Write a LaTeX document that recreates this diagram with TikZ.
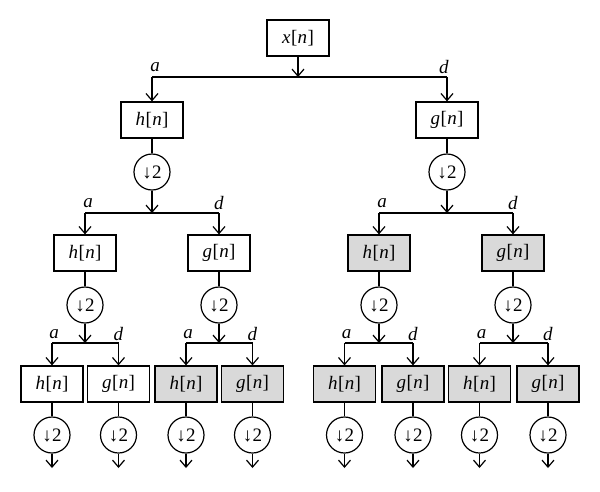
\documentclass[tikz,border=0pt]{standalone}
\usepackage{fontspec}
\setmainfont{Liberation Serif}
\usetikzlibrary{arrows.meta}
\newcommand{\sig}[1]{\textit{#1}\kern0.5pt[\kern0.3pt\textit{n}\kern0.3pt]}
\newcommand{\dtwo}{↓\kern0.5pt2}
\begin{document}
\begin{tikzpicture}[x=1pt,y=-1pt,
  every node/.style={font=\fontsize{19}{21}\selectfont},
  conn/.style={line width=1.2pt},
  arr/.style={conn,-{Straight Barb[length=7pt,width=12pt,line width=1.2pt]}},
  fbox/.style={draw,line width=1.2pt,minimum width=62pt,minimum height=36pt,inner sep=0pt},
  gbox/.style={fbox,fill=gray!30},
  dcirc/.style={draw,circle,line width=1.2pt,minimum size=36pt,inner sep=0pt},
  lab/.style={inner sep=0pt}]
\useasboundingbox (0,0) rectangle (600,491);
% top
\node[fbox] (x) at (298,38) {\sig{x}};
\coordinate (j0) at (298,77);
\node[fbox] (h1) at (152,120) {\sig{h}};
\node[fbox] (g1) at (447,120) {\sig{g}};
\node[dcirc] (ch1) at (152,172) {\dtwo};
\node[dcirc] (cg1) at (447,172) {\dtwo};
% level 2
\coordinate (j1) at (152,213);
\coordinate (j2) at (447,213);
\node[fbox] (h2a) at (85,253) {\sig{h}};
\node[fbox] (g2a) at (219,253) {\sig{g}};
\node[gbox] (h2b) at (379,253) {\sig{h}};
\node[gbox] (g2b) at (513,253) {\sig{g}};
\node[dcirc] (ch2a) at (85,305) {\dtwo};
\node[dcirc] (cg2a) at (219,305) {\dtwo};
\node[dcirc] (ch2b) at (379,305) {\dtwo};
\node[dcirc] (cg2b) at (513,305) {\dtwo};
% level 3
\coordinate (k1) at (85,343);
\coordinate (k2) at (219,343);
\coordinate (k3) at (379,343);
\coordinate (k4) at (513,343);
\node[fbox] (h3a) at (52,384) {\sig{h}};
\node[fbox] (g3a) at (118.5,384) {\sig{g}};
\node[gbox] (h3b) at (186,384) {\sig{h}};
\node[gbox] (g3b) at (252.5,384) {\sig{g}};
\node[gbox] (h3c) at (344.5,384) {\sig{h}};
\node[gbox] (g3c) at (413,384) {\sig{g}};
\node[gbox] (h3d) at (479.5,384) {\sig{h}};
\node[gbox] (g3d) at (548,384) {\sig{g}};
\foreach \n in {h3a,g3a,h3b,g3b,h3c,g3c,h3d,g3d}{
  \node[dcirc] (c\n) at ([yshift=-51pt]\n.center) {\dtwo};
  \coordinate (e\n) at ([yshift=-84pt]\n.center);
  \draw[conn] (\n.south) -- (c\n.north);
  \draw[arr] (c\n.south) -- (e\n);
}
% top connections
\draw[arr] (x.south) -- (j0);
\draw[conn] (h1|-j0) -- (g1|-j0);
\draw[arr] (h1|-j0) -- (h1.north);
\draw[arr] (g1|-j0) -- (g1.north);
\node[lab] (la0) at ([xshift=3pt,yshift=10pt]h1|-j0) {\textit{a}};
\node[lab] (ld0) at ([xshift=-3pt,yshift=10pt]g1|-j0) {\textit{d}};
% level 1 -> level 2
\draw[conn] (h1.south) -- (ch1.north);
\draw[conn] (g1.south) -- (cg1.north);
\draw[arr] (ch1.south) -- (j1);
\draw[arr] (cg1.south) -- (j2);
\draw[conn] (h2a|-j1) -- (g2a|-j1);
\draw[conn] (h2b|-j2) -- (g2b|-j2);
\foreach \n/\j in {h2a/j1,g2a/j1,h2b/j2,g2b/j2}{
  \draw[arr] (\n|-\j) -- (\n.north);
}
\node[lab] (la1) at ([xshift=3pt,yshift=10pt]h2a|-j1) {\textit{a}};
\node[lab] (ld1) at ([xshift=0pt,yshift=10pt]g2a|-j1) {\textit{d}};
\node[lab] (la2) at ([xshift=3pt,yshift=10pt]h2b|-j2) {\textit{a}};
\node[lab] (ld2) at ([xshift=0pt,yshift=10pt]g2b|-j2) {\textit{d}};
% level 2 -> level 3
\draw[conn] (h2a.south) -- (ch2a.north);
\draw[conn] (g2a.south) -- (cg2a.north);
\draw[conn] (h2b.south) -- (ch2b.north);
\draw[conn] (g2b.south) -- (cg2b.north);
\draw[arr] (ch2a.south) -- (k1);
\draw[arr] (cg2a.south) -- (k2);
\draw[arr] (ch2b.south) -- (k3);
\draw[arr] (cg2b.south) -- (k4);
\foreach \p/\q/\k/\i in {h3a/g3a/k1/1,h3b/g3b/k2/2,h3c/g3c/k3/3,h3d/g3d/k4/4}{
  \draw[conn] (\p|-\k) -- (\q|-\k);
  \draw[arr] (\p|-\k) -- (\p.north);
  \draw[arr] (\q|-\k) -- (\q.north);
  \node[lab] (la3\i) at ([xshift=2pt,yshift=9pt]\p|-\k) {\textit{a}};
  \node[lab] (ld3\i) at ([xshift=0pt,yshift=9pt]\q|-\k) {\textit{d}};
}
\end{tikzpicture}
\end{document}
